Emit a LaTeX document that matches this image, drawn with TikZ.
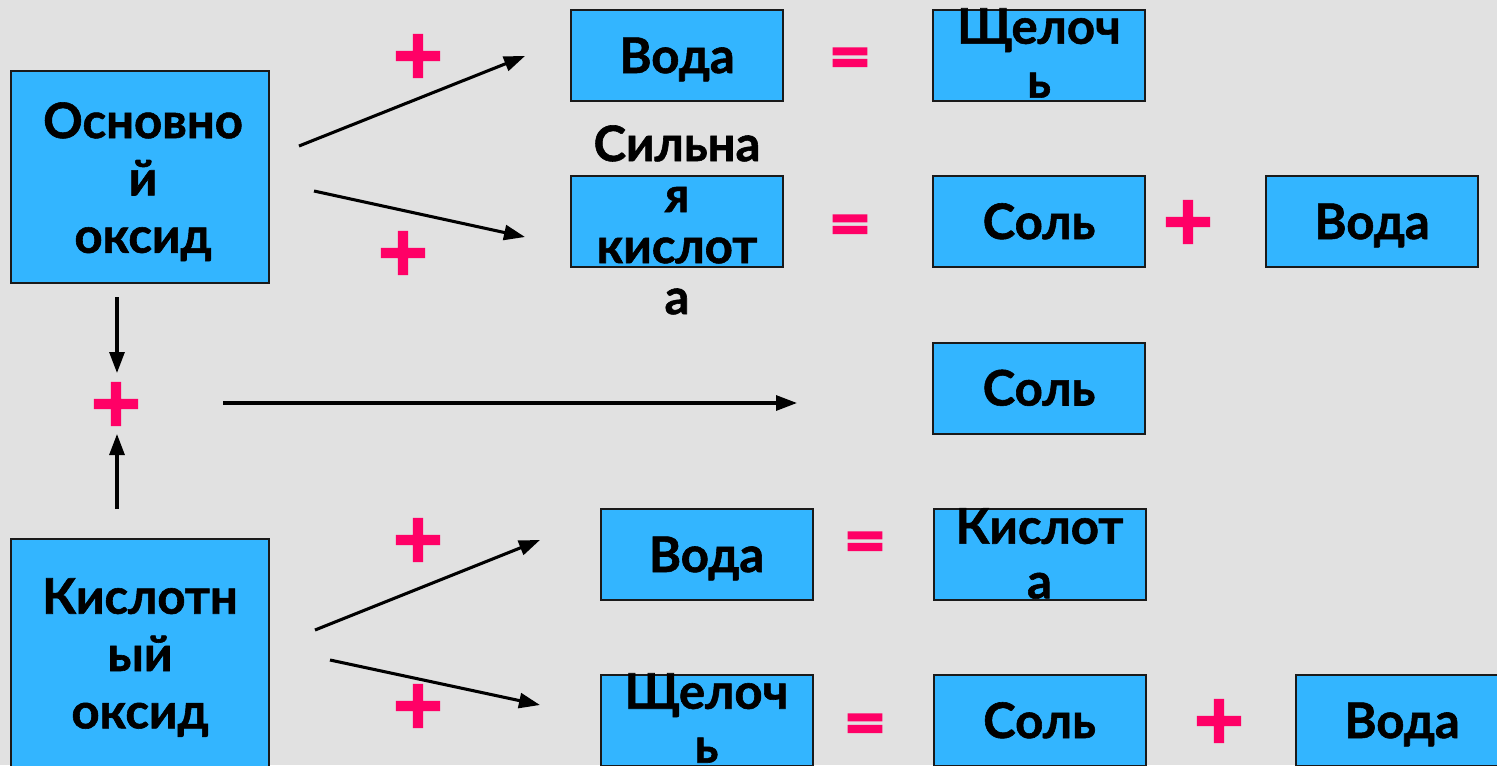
\documentclass[tikz,border=0pt]{standalone}
\usepackage{fontspec}
\setmainfont{Lato}[BoldFeatures={FakeBold=1.2}]
\newfontfamily\symfont{DejaVu Sans}[BoldFeatures={FakeBold=4}]
\usetikzlibrary{arrows.meta}
\definecolor{bg}{HTML}{E1E1E1}
\definecolor{boxc}{HTML}{33B5FF}
\definecolor{pinkc}{HTML}{FF0066}
\definecolor{edge}{HTML}{1A1A1A}
\begin{document}
\begin{tikzpicture}[x=0.75pt,y=-0.75pt,
  box/.style={draw=edge,line width=1.5pt,fill=boxc,inner sep=0pt,minimum width=159pt,minimum height=68.25pt},
  bigbox/.style={box,minimum width=193.5pt,minimum height=159pt},
  tallbox/.style={box,minimum width=193.5pt,minimum height=180pt},
  lbl/.style={inner sep=0pt,anchor=base,font={\bfseries\fontsize{36.75pt}{42pt}\selectfont}},
  ml/.style={inner sep=0pt,align=center,anchor=north,font={\bfseries\fontsize{36.75pt}{#1}\selectfont}},
  plus/.style={text=pinkc,inner sep=0pt,font={\symfont\bfseries\fontsize{50pt}{50pt}\selectfont}},
  eq/.style={text=pinkc,inner sep=0pt,font={\symfont\bfseries\fontsize{39pt}{39pt}\selectfont}},
  arr/.style={-{Triangle[length=15.75pt,width=11.25pt]},line width=2.3pt,black}]
\fill[bg] (0,0) rectangle (1497,765);
\useasboundingbox (0,0) rectangle (1497,765);
% boxes
\node[bigbox] (bo) at (140,177) {};
\node[tallbox] (bk) at (140,659) {};
\node[box] (w1) at (677,55.5) {};
\node[box] (s1) at (677,221.5) {};
\node[box] (a1) at (1039,55.5) {};
\node[box] (c1) at (1039,221.5) {};
\node[box] (w2) at (1372,221.5) {};
\node[box] (c2) at (1039,388) {};
\node[box] (w3) at (706.5,554.5) {};
\node[box] (k1) at (1039.5,554.5) {};
\node[box] (a2) at (706.5,720.5) {};
\node[box] (c3) at (1039.5,720.5) {};
\node[box] (w4) at (1402,720.5) {};
% texts
\node[ml=43pt] (to) at (143,102) {Основно\\й\\оксид};
\node[ml=43pt] (tk) at (140,578) {Кислотн\\ый\\оксид};
\node[ml=38.25pt] (ts) at (677,125) {Сильна\\я\\кислот\\а};
\node[ml=40.5pt] (ta1) at (1039,8) {Щелоч\\ь};
\node[ml=41pt] (tk1) at (1039.5,508) {Кислот\\а};
\node[ml=40.5pt] (ta2) at (706.5,673) {Щелоч\\ь};
\node[lbl] (tw1) at (677,73) {Вода};
\node[lbl] (tc1) at (1039,239) {Соль};
\node[lbl] (tw2) at (1372,239) {Вода};
\node[lbl] (tc2) at (1039,405.5) {Соль};
\node[lbl] (tw3) at (706.5,572) {Вода};
\node[lbl] (tc3) at (1039.5,738) {Соль};
\node[lbl] (tw4) at (1402,738) {Вода};
% plus and equals signs
\node[plus] (p1) at (418,56) {+};
\node[plus] (p2) at (403,253) {+};
\node[plus] (p3) at (116,404) {+};
\node[plus] (p4) at (418,540) {+};
\node[plus] (p5) at (418,706) {+};
\node[plus] (p6) at (1188,222) {+};
\node[plus] (p7) at (1219,721) {+};
\node[eq] (e1) at (850,61) {=};
\node[eq] (e2) at (850,228) {=};
\node[eq] (e3) at (865,545) {=};
\node[eq] (e4) at (865,727) {=};
% arrow ends
\coordinate (a1s) at (299,146); \coordinate (a1e) at (525,56);
\coordinate (a2s) at (314,191); \coordinate (a2e) at (525,237);
\coordinate (a3s) at (117,297); \coordinate (a3e) at (117,373);
\coordinate (a4s) at (117,509); \coordinate (a4e) at (117,434);
\coordinate (a5s) at (223,403); \coordinate (a5e) at (797,403);
\coordinate (a6s) at (315,630); \coordinate (a6e) at (540,540);
\coordinate (a7s) at (330,660); \coordinate (a7e) at (540,705);
\draw[arr] (a1s) -- (a1e);
\draw[arr] (a2s) -- (a2e);
\draw[arr] (a3s) -- (a3e);
\draw[arr] (a4s) -- (a4e);
\draw[arr] (a5s) -- (a5e);
\draw[arr] (a6s) -- (a6e);
\draw[arr] (a7s) -- (a7e);
\end{tikzpicture}
\end{document}
